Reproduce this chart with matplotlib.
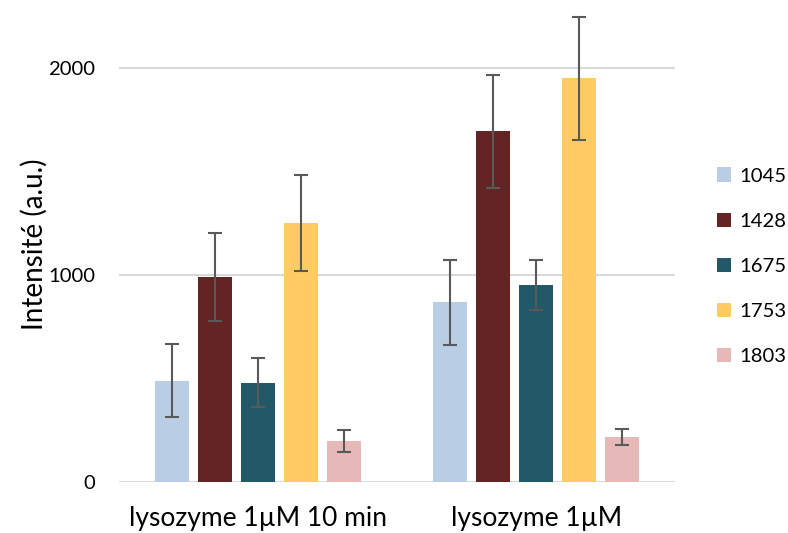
import matplotlib
matplotlib.use("Agg")
import matplotlib.pyplot as plt
import numpy as np

categories = ["lysozyme 1µM 10 min", "lysozyme 1µM"]
series = ["1045", "1428", "1675", "1753", "1803"]
values = {
    "1045": [490, 868],
    "1428": [992, 1694],
    "1675": [480, 952],
    "1753": [1252, 1952],
    "1803": [196, 217],
}
errors = {
    "1045": [175, 207],
    "1428": [213, 275],
    "1675": [120, 121],
    "1753": [233, 297],
    "1803": [53, 40],
}
colors = ["#B9CDE5", "#632523", "#215968", "#FFCB65", "#E6B9B8"]
yticks = [0, 1000, 2000]

plt.rcParams['font.family'] = ['Lato', 'DejaVu Sans']

fig = plt.figure(figsize=(7.88, 5.33), dpi=100)
ax = fig.add_axes([0.151, 0.0957, 0.706, 0.893])

x = np.arange(len(categories))
step = 0.1547
width = 0.122
n = len(series)
for i, (s, c) in enumerate(zip(series, colors)):
    off = (i - (n - 1) / 2) * step
    ax.bar(x + off, values[s], width, color=c, label=s, zorder=2,
           yerr=errors[s], error_kw=dict(ecolor="#595959", elinewidth=1.5,
                                         capsize=5, capthick=1.5, zorder=3))

ax.set_xlim(-0.5, 1.5)
ax.set_ylim(0, 2300)
ax.set_yticks(yticks)
ax.set_yticklabels([str(t) for t in yticks], fontsize=14.6)
ax.set_xticks(x)
ax.set_xticklabels(categories, fontsize=19)
ax.tick_params(axis='y', length=0, pad=17)
ax.tick_params(axis='x', length=0, pad=17)
ax.grid(axis='y', color="#D9D9D9", linewidth=1.5, zorder=0)
ax.set_axisbelow(True)
for sp in ax.spines.values():
    sp.set_visible(False)
ax.set_ylabel("Intensité (a.u.)", fontsize=20)
ax.yaxis.set_label_coords(-0.128, 0.5)

leg = ax.legend(loc="upper left", bbox_to_anchor=(1.06, 0.678), frameon=False,
                fontsize=14.6, handlelength=0.7, handleheight=0.7,
                labelspacing=1.38, handletextpad=0.4, borderaxespad=0)

fig.savefig("out.png", dpi=100)
